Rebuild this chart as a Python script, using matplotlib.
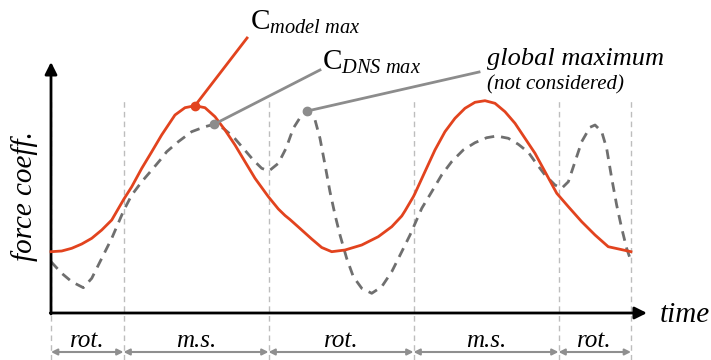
import numpy as np
import matplotlib.pyplot as plt

plt.rcParams['font.family'] = ['Liberation Serif', 'DejaVu Serif']
plt.rcParams['mathtext.fontset'] = 'custom'
plt.rcParams['mathtext.rm'] = 'Liberation Serif'
plt.rcParams['mathtext.it'] = 'Liberation Serif:italic'

# time in units of one m.s. phase, force in arbitrary units
t_model = [0.0, 0.074, 0.143, 0.212, 0.281, 0.35, 0.419, 0.503, 0.557, 0.626,
           0.695, 0.763, 0.786, 0.855, 0.924, 0.993, 1.062, 1.131, 1.2, 1.269,
           1.338, 1.407, 1.499, 1.568, 1.614, 1.648, 1.706, 1.798, 1.867, 1.936,
           2.028, 2.143, 2.257, 2.35, 2.419, 2.441, 2.499, 2.51, 2.579, 2.648,
           2.717, 2.786, 2.855, 2.924, 2.993, 3.062, 3.131, 3.2, 3.269, 3.338,
           3.407, 3.488, 3.568, 3.66, 3.752, 3.843, 4.0]
f_model = [0.613, 0.62, 0.647, 0.69, 0.747, 0.83, 0.93, 1.14, 1.263, 1.447,
           1.613, 1.78, 1.83, 1.98, 2.053, 2.073, 2.053, 1.963, 1.83, 1.68,
           1.513, 1.347, 1.163, 1.04, 0.975, 0.935, 0.86, 0.74, 0.655, 0.613,
           0.63, 0.68, 0.763, 0.863, 0.97, 1.02, 1.163, 1.195, 1.413, 1.63,
           1.813, 1.947, 2.047, 2.107, 2.123, 2.097, 2.013, 1.897, 1.747, 1.597,
           1.413, 1.197, 1.063, 0.913, 0.78, 0.663, 0.613]

t_dns = [0.0, 0.074, 0.143, 0.223, 0.281, 0.35, 0.419, 0.503, 0.557, 0.626,
         0.695, 0.763, 0.798, 0.878, 0.97, 1.062, 1.124, 1.188, 1.257, 1.326,
         1.395, 1.453, 1.503, 1.568, 1.621, 1.671, 1.729, 1.768, 1.821, 1.855,
         1.89, 1.924, 1.959, 1.993, 2.039, 2.085, 2.143, 2.212, 2.281, 2.35,
         2.419, 2.476, 2.557, 2.626, 2.694, 2.763, 2.843, 2.924, 3.005, 3.074,
         3.154, 3.223, 3.292, 3.338, 3.407, 3.476, 3.522, 3.568, 3.614, 3.66,
         3.717, 3.752, 3.798, 3.832, 3.867, 3.901, 3.936, 3.97, 4.005]
f_dns = [0.513, 0.397, 0.313, 0.253, 0.347, 0.547, 0.747, 1.03, 1.18, 1.313,
         1.43, 1.547, 1.613, 1.713, 1.813, 1.863, 1.887, 1.847, 1.763, 1.647,
         1.53, 1.447, 1.42, 1.497, 1.647, 1.847, 1.98, 2.02, 1.93, 1.747,
         1.48, 1.213, 0.98, 0.78, 0.547, 0.363, 0.247, 0.197, 0.263, 0.413,
         0.613, 0.78, 1.047, 1.213, 1.38, 1.513, 1.63, 1.703, 1.753, 1.77,
         1.747, 1.687, 1.607, 1.513, 1.38, 1.28, 1.247, 1.313, 1.513, 1.713,
         1.857, 1.88, 1.813, 1.647, 1.347, 1.08, 0.847, 0.647, 0.497]

phase_edges = [0.0, 0.5, 1.5, 2.5, 3.5, 4.0]
phase_labels = ['rot.', 'm.s.', 'rot.', 'm.s.', 'rot.']

red = '#e2431e'
grey = '#6f6f6f'
lead = '#8c8c8c'

fig = plt.figure(figsize=(7.11, 3.6), dpi=100)
ax = fig.add_axes([0, 0, 1, 1])
ax.set_xlim(-51 / 145, 660 / 145)
ax.set_ylim(-0.47, 3.13)
ax.axis('off')

# phase boundaries
for e in phase_edges:
    ax.plot([e, e], [-0.47, 2.15], color='#bdbdbd', lw=1, ls=(0, (4, 3)), zorder=1)

# curves
ax.plot(t_dns, f_dns, color=grey, lw=2, ls=(0, (3.5, 2.5)), zorder=3,
        dash_joinstyle='round')
ax.plot(t_model, f_model, color=red, lw=2, zorder=4, solid_joinstyle='round')

# axes with arrows
ax.annotate('', xy=(0, 2.51), xytext=(0, -0.01),
            arrowprops=dict(arrowstyle='-|>', lw=2, color='k', mutation_scale=18, shrinkA=0, shrinkB=0))
ax.annotate('', xy=(4.11, 0), xytext=(-0.005, 0),
            arrowprops=dict(arrowstyle='-|>', lw=2, color='k', mutation_scale=18, shrinkA=0, shrinkB=0))
ax.text(-0.18, 1.17, 'force coeff.', rotation=90, ha='center', va='center',
        fontsize=21, style='italic')
ax.text(4.2, -0.09, 'time', ha='left', va='baseline', fontsize=21, style='italic')

# phase arrows and labels
for a, b, lab in zip(phase_edges[:-1], phase_edges[1:], phase_labels):
    ax.annotate('', xy=(b, -0.39), xytext=(a, -0.39),
                arrowprops=dict(arrowstyle='<|-|>', lw=1.5, color='#8f8f8f',
                                mutation_scale=9, shrinkA=0, shrinkB=0))
    ax.text((a + b) / 2, -0.34, lab, ha='center', va='baseline', fontsize=18, style='italic')

# maxima
tm, fm = np.array(t_model), np.array(f_model)
td, fd = np.array(t_dns), np.array(f_dns)
win_m = (tm > 0.5) & (tm < 1.5)
win_d = (td > 0.5) & (td < 1.5)
i_m = np.argmax(np.where(win_m, fm, -np.inf))
i_d = np.argmax(np.where(win_d, fd, -np.inf))
i_g = np.argmax(fd)

ax.plot([tm[i_m], 1.352], [fm[i_m], 2.75], color=red, lw=2, zorder=5)
ax.plot(tm[i_m], fm[i_m], 'o', color=red, ms=6, zorder=6)
ax.text(1.372, 2.83, r'$\mathrm{C}_{\mathit{model\ max}}$', fontsize=21, ha='left', va='baseline')

ax.plot([td[i_d], 1.855], [fd[i_d], 2.43], color=lead, lw=2, zorder=5)
ax.plot(td[i_d], fd[i_d], 'o', color=lead, ms=6, zorder=6)
ax.text(1.869, 2.43, r'$\mathrm{C}_{\mathit{DNS\ max}}$', fontsize=21, ha='left', va='baseline')

ax.plot([td[i_g], 2.952], [fd[i_g], 2.41], color=lead, lw=2, zorder=5)
ax.plot(td[i_g], fd[i_g], 'o', color=lead, ms=6, zorder=6)
ax.text(3.007, 2.48, 'global maximum', fontsize=19, style='italic', ha='left', va='baseline')
ax.text(3.007, 2.24, '(not considered)', fontsize=15, style='italic', ha='left', va='baseline')

fig.savefig('out.png', dpi=100)
